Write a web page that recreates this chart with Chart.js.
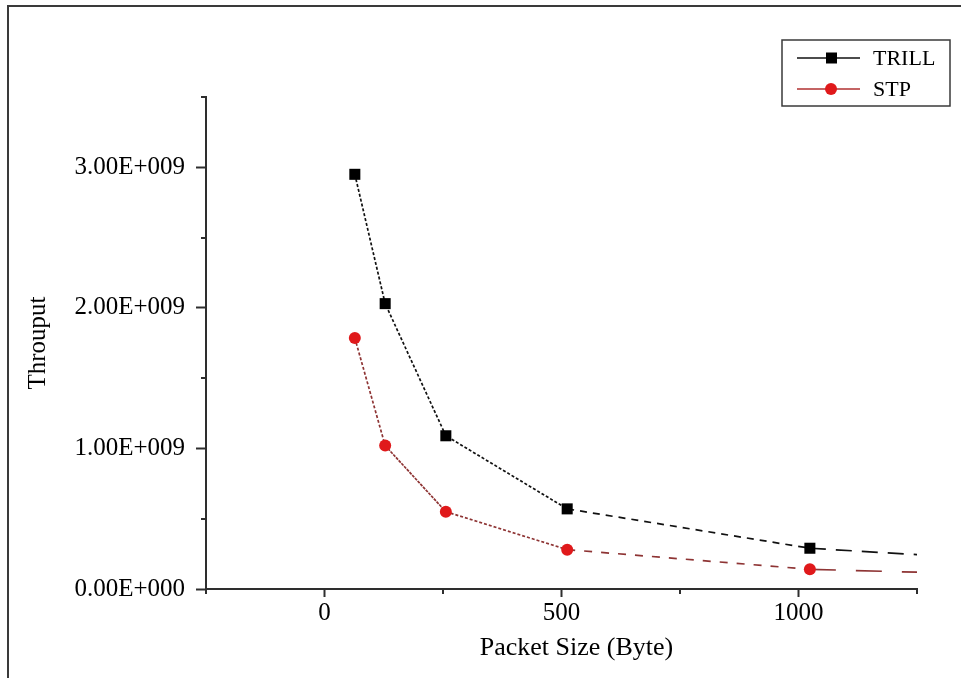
<!DOCTYPE html>
<html>
<head>
<meta charset="utf-8">
<script src="https://cdn.jsdelivr.net/npm/chart.js@4.4.1/dist/chart.umd.min.js"></script>
<style>
  html, body { margin: 0; padding: 0; background: #ffffff; }
  #wrap { position: relative; width: 961px; height: 678px; }
  #frame { position: absolute; left: 7px; top: 5px; right: 0; bottom: 0; border-left: 2px solid #3a3a3a; border-top: 2px solid #3a3a3a; pointer-events: none; }
  canvas { position: absolute; left: 0; top: 0; }
</style>
</head>
<body>
<div id="wrap">
  <canvas id="c" width="961" height="678"></canvas>
  <div id="frame"></div>
</div>
<script>
// ---- data ----
const packetSizes = [64, 128, 256, 512, 1024, 1518];
const trillThroughput = [2.95e9, 2.03e9, 1.09e9, 0.57e9, 0.29e9, 0.19e9];
const stpThroughput = [1.785e9, 1.02e9, 0.55e9, 0.28e9, 0.14e9, 0.095e9];
const seriesLabels = ['TRILL', 'STP'];
const xTickLabels = [0, 500, 1000];
const yTickLabels = ['0.00E+000', '1.00E+009', '2.00E+009', '3.00E+009'];
const xTitle = 'Packet Size (Byte)';
const yTitle = 'Throuput';

const FONT = '"Liberation Serif", "Times New Roman", serif';
const AXIS = '#2e2e2e';

const toPts = ys => packetSizes.map((x, i) => ({ x: x, y: ys[i] }));

// per-segment dash patterns (styling)
const trillDash = [[3, 2], [3, 2], [3, 2], [7, 6], [16, 10]];
const stpDash = [[3, 2], [3, 1], [3, 2], [8, 9], [26, 20]];

const minorTicks = {
  id: 'minorTicks',
  afterDraw(chart) {
    const { ctx } = chart;
    const xs = chart.scales.x, ys = chart.scales.y;
    ctx.save();
    ctx.strokeStyle = AXIS;
    ctx.lineWidth = 2;
    for (let v = -250; v <= 1250; v += 250) {
      if (v % 500 === 0) continue;
      const px = Math.round(xs.getPixelForValue(v));
      ctx.beginPath();
      ctx.moveTo(px, ys.bottom);
      ctx.lineTo(px, ys.bottom + 5);
      ctx.stroke();
    }
    for (let v = 0.5e9; v <= 3.5e9; v += 1e9) {
      const py = Math.round(ys.getPixelForValue(v));
      ctx.beginPath();
      ctx.moveTo(xs.left - 5, py);
      ctx.lineTo(xs.left, py);
      ctx.stroke();
    }
    // x-axis title (placed slightly right of centre, as in the reference)
    ctx.fillStyle = '#000';
    ctx.font = '26px ' + FONT;
    ctx.textAlign = 'center';
    ctx.textBaseline = 'middle';
    ctx.fillText(xTitle, (xs.left + xs.right) / 2 + 15, 648);
    ctx.restore();
  }
};

const boxLegend = {
  id: 'boxLegend',
  afterDraw(chart) {
    const { ctx } = chart;
    const bx = 782, by = 40, bw = 168, bh = 66;
    ctx.save();
    ctx.strokeStyle = '#3a3a3a';
    ctx.lineWidth = 1.5;
    ctx.strokeRect(bx, by, bw, bh);
    const rows = [58, 89];
    chart.data.datasets.forEach((ds, i) => {
      const y = rows[i];
      ctx.strokeStyle = ds.legendLine;
      ctx.lineWidth = 1.3;
      ctx.setLineDash([]);
      ctx.beginPath();
      ctx.moveTo(797, y);
      ctx.lineTo(860, y);
      ctx.stroke();
      ctx.fillStyle = ds.pointBackgroundColor;
      if (ds.pointStyle === 'rect') {
        ctx.fillRect(826, y - 5.5, 11, 11);
      } else {
        ctx.beginPath();
        ctx.arc(831, y, 6, 0, Math.PI * 2);
        ctx.fill();
      }
      ctx.fillStyle = '#000';
      ctx.font = '22px ' + FONT;
      ctx.textBaseline = 'middle';
      ctx.textAlign = 'left';
      ctx.fillText(ds.label, 873, y + 1);
    });
    ctx.restore();
  }
};

new Chart(document.getElementById('c'), {
  type: 'line',
  data: {
    datasets: [
      {
        label: seriesLabels[0],
        data: toPts(trillThroughput),
        borderColor: '#111111',
        legendLine: '#111111',
        borderWidth: 1.7,
        pointStyle: 'rect',
        pointRadius: 7.8,
        pointBackgroundColor: '#000000',
        pointBorderWidth: 0,
        tension: 0,
        segment: { borderDash: c => trillDash[c.p0DataIndex] }
      },
      {
        label: seriesLabels[1],
        data: toPts(stpThroughput),
        borderColor: '#8e3434',
        legendLine: '#b03030',
        borderWidth: 1.7,
        pointStyle: 'circle',
        pointRadius: 6,
        pointBackgroundColor: '#e0191b',
        pointBorderWidth: 0,
        tension: 0,
        segment: { borderDash: c => stpDash[c.p0DataIndex] }
      }
    ]
  },
  options: {
    responsive: false,
    animation: false,
    devicePixelRatio: 1,
    layout: { padding: { left: 0, top: 97, right: 44, bottom: 0 } },
    plugins: { legend: { display: false }, tooltip: { enabled: false } },
    scales: {
      x: {
        type: 'linear',
        min: -250,
        max: 1250,
        afterFit: s => { s.height = 89; },
        ticks: {
          stepSize: 250,
          autoSkip: false,
          maxRotation: 0,
          padding: 1,
          color: '#000',
          font: { family: FONT, size: 25 },
          callback: v => (xTickLabels.includes(v) ? String(v) : '')
        },
        grid: {
          drawOnChartArea: false,
          tickLength: 8,
          tickWidth: 2,
          tickColor: c => (xTickLabels.includes(c.tick.value) ? AXIS : 'rgba(0,0,0,0)')
        },
        border: { color: AXIS, width: 2 },
        title: { display: false, text: xTitle }
      },
      y: {
        type: 'linear',
        min: 0,
        max: 3.5e9,
        afterFit: s => { s.width = 206; },
        ticks: {
          stepSize: 0.5e9,
          autoSkip: false,
          padding: 11,
          color: '#000',
          font: { family: FONT, size: 25 },
          callback: v => {
            const k = Math.round(v / 1e9);
            return (Math.abs(v - k * 1e9) < 1 && yTickLabels[k]) ? yTickLabels[k] : '';
          }
        },
        grid: {
          drawOnChartArea: false,
          tickLength: 10,
          tickWidth: 2,
          tickColor: c => (Math.abs(c.tick.value % 1e9) < 1 ? AXIS : 'rgba(0,0,0,0)')
        },
        border: { color: AXIS, width: 2 },
        title: {
          display: true,
          text: yTitle,
          color: '#000',
          font: { family: FONT, size: 25 },
          padding: { top: 23, bottom: 0 }
        }
      }
    }
  },
  plugins: [minorTicks, boxLegend]
});
</script>
</body>
</html>
